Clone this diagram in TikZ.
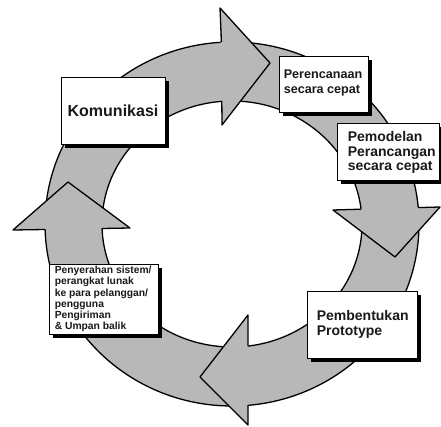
\documentclass[tikz,border=0pt]{standalone}
\usepackage{fontspec}
\setmainfont{Liberation Sans}
\usetikzlibrary{shadows}
\definecolor{ringgray}{RGB}{184,184,184}
\tikzset{
  ringline/.style={draw=black, line width=1.3pt, line join=round},
  headfill/.style={fill=ringgray},
  boxstyle/.style={draw=black, line width=0.8pt, fill=white, inner sep=0pt,
    drop shadow={shadow xshift=4pt, shadow yshift=-4pt, fill=black, opacity=1}},
  txt/.style={inner sep=0pt, align=left, text=black!90}
}
\begin{document}
\begin{tikzpicture}[x=1pt, y=-1pt]
\useasboundingbox (0,0) rectangle (441,427);
\fill[white] (0,0) rectangle (441,427);
% ring
\fill[ringgray, even odd rule] (232,224) ellipse (187pt and 182pt) (232,224) ellipse (130pt and 123pt);
\draw[ringline] (232,224) ellipse (187pt and 182pt);
\draw[ringline] (232,224) ellipse (130pt and 123pt);
% top arrow head (pointing right)
\fill[headfill] (220,8) -- (270,63) -- (222,125) -- cycle;
\draw[ringline] (221.4,42) -- (220,8) -- (270,63) -- (222,125) -- (221.8,101);
% right arrow head (pointing down)
\fill[headfill] (333,210) -- (440,207) -- (395,257) -- cycle;
\draw[ringline] (361,209.2) -- (333,210) -- (395,257) -- (440,207) -- (418,207.6);
% bottom arrow head (pointing left)
\fill[headfill] (248,315) -- (200,377) -- (248,425) -- cycle;
\draw[ringline] (248,346) -- (248,315) -- (200,377) -- (248,425) -- (248,405);
% left arrow head (pointing up)
\fill[headfill] (13,230) -- (68,182) -- (130,228) -- cycle;
\draw[ringline] (45,229.5) -- (13,230) -- (68,182) -- (130,228) -- (102,228.5);
% boxes
\node[boxstyle, minimum width=104pt, minimum height=67pt] (komBox) at (113,110.5) {};
\node[txt, font=\bfseries\fontsize{16}{19}\selectfont] (komText) at (komBox.center) {Komunikasi};
\node[boxstyle, minimum width=89pt, minimum height=56pt] (perBox) at (323.5,84) {};
\node[txt, anchor=west, font=\bfseries\fontsize{12.6}{15}\selectfont] (perText) at ([xshift=5pt,yshift=1pt]perBox.west) {Perencanaan\\secara cepat};
\node[boxstyle, minimum width=102pt, minimum height=57pt] (pemBox) at (388,151.5) {};
\node[txt, anchor=west, font=\bfseries\fontsize{14}{14.5}\selectfont] (pemText) at ([xshift=11pt,yshift=-1pt]pemBox.west) {Pemodelan\\Perancangan\\secara cepat};
\node[boxstyle, minimum width=110pt, minimum height=67pt] (pbBox) at (362,324.5) {};
\node[txt, anchor=west, font=\bfseries\fontsize{14}{15}\selectfont] (pbText) at ([xshift=10pt]pbBox.west) {Pembentukan\\Prototype};
\node[boxstyle, minimum width=109pt, minimum height=70pt] (pyBox) at (103.5,299) {};
\node[txt, anchor=west, font=\bfseries\fontsize{10.3}{11.2}\selectfont] (pyText) at ([xshift=6pt]pyBox.west) {Penyerahan sistem/\\perangkat lunak\\ke para pelanggan/\\pengguna\\Pengiriman\\\& Umpan balik};
\end{tikzpicture}
\end{document}
